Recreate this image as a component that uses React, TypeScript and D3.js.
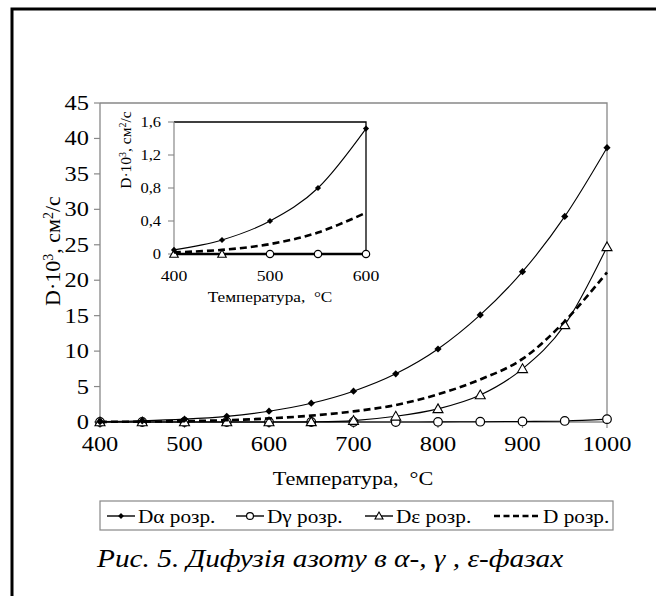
import React from "react";
import * as d3 from "d3";

const temps = [400, 450, 500, 550, 600, 650, 700, 750, 800, 850, 900, 950, 1000];
const dAlpha = [0.05, 0.17, 0.4, 0.8, 1.52, 2.65, 4.35, 6.8, 10.3, 15.1, 21.2, 29.0, 38.7];
const dGamma = [0, 0, 0, 0, 0, 0, 0, 0, 0.02, 0.04, 0.08, 0.15, 0.4];
const dEps = [0, 0, 0, 0, 0, 0.02, 0.2, 0.8, 1.85, 3.8, 7.5, 13.7, 24.7];
const dSum = [0.02, 0.05, 0.12, 0.26, 0.5, 0.9, 1.5, 2.4, 3.9, 6.0, 8.9, 14.2, 21.1];

// inset (enlarged 400–600 °C): temperatures plotted for each series
const insetAlphaTemps = [400, 450, 500, 550, 600];
const insetGammaTemps = [500, 550, 600];
const insetEpsTemps = [400, 450];
const insetSumTemps = [400, 450, 500, 550, 600];
const insetZeroLine = [400, 600];

const mainYTicks = [0, 5, 10, 15, 20, 25, 30, 35, 40, 45];
const mainXTicks = [400, 500, 600, 700, 800, 900, 1000];
const insetYTicks = [0, 0.4, 0.8, 1.2, 1.6];
const insetYLabels = ["0", "0,4", "0,8", "1,2", "1,6"];
const insetXTicks = [400, 500, 600];

const seriesNames = ["Dα розр.", "Dγ розр.", "Dε розр.", "D розр."];
const caption = "Рис. 5. Дифузія азоту в α-, γ , ε-фазах";
const xTitle = "Температура,\u00a0\u00a0°C";

type Pt = [number, number];

function Marker({ kind, x, y, s = 1 }: { kind: string; x: number; y: number; s?: number }) {
  if (kind === "diamond") {
    const r = 3.6 * s;
    return <path d={`M${x},${y - r}L${x + r},${y}L${x},${y + r}L${x - r},${y}Z`} fill="#000" />;
  }
  if (kind === "circle") {
    return <circle cx={x} cy={y} r={4.3 * s} fill="#fff" stroke="#000" strokeWidth={1.2} />;
  }
  if (kind === "triangle") {
    const r = 5 * s;
    return (
      <path
        d={`M${x},${y - r}L${x + r},${y + r * 0.75}L${x - r},${y + r * 0.75}Z`}
        fill="#fff"
        stroke="#000"
        strokeWidth={1.1}
      />
    );
  }
  return null;
}

function T({
  x,
  y,
  sx = 1.15,
  size,
  anchor = "start",
  italic,
  children,
  dy,
}: {
  x: number;
  y: number;
  sx?: number;
  size: number;
  anchor?: string;
  italic?: boolean;
  children: React.ReactNode;
  dy?: string;
}) {
  return (
    <text
      transform={`translate(${x},${y}) scale(${sx},1)`}
      textAnchor={anchor}
      fontSize={size}
      fontStyle={italic ? "italic" : undefined}
      dy={dy}
    >
      {children}
    </text>
  );
}

const line = d3.line<Pt>().curve(d3.curveCardinal.tension(0));

function Series({
  x,
  y,
  ts,
  vals,
  marker,
  w,
  dash,
  s,
}: {
  x: d3.ScaleLinear<number, number>;
  y: d3.ScaleLinear<number, number>;
  ts: number[];
  vals: number[];
  marker: string;
  w: number;
  dash?: string;
  s: number;
}) {
  const pts = ts.map((t) => [x(t), y(vals[temps.indexOf(t)])] as Pt);
  return (
    <g>
      <path d={line(pts) || ""} fill="none" stroke="#000" strokeWidth={w} strokeDasharray={dash} />
      {pts.map((p, j) => (
        <Marker key={j} kind={marker} x={p[0]} y={p[1]} s={s} />
      ))}
    </g>
  );
}

export default function App() {
  const W = 656;
  const H = 596;
  const x = d3.scaleLinear().domain([400, 1000]).range([100, 607]);
  const y = d3.scaleLinear().domain([0, 45]).range([422, 103]);
  const ix = d3.scaleLinear().domain([400, 600]).range([174, 366]);
  const iy = d3.scaleLinear().domain([0, 1.6]).range([254, 122]);

  const legendX = [107, 236, 365, 494];
  const legendLen = [28, 28, 28, 46];
  const legendKinds = ["diamond", "circle", "triangle", "dash"];

  return (
    <svg width={W} height={H} style={{ position: "absolute", left: 0, top: 0, background: "#fff" }}>
      <style>{`text { font-family: "Liberation Serif", "Times New Roman", serif; fill: #000; }`}</style>
      <rect x={0} y={0} width={W} height={H} fill="#fff" />
      <rect x={12} y={9} width={800} height={800} fill="none" stroke="#000" strokeWidth={3} />

      {/* main plot frame and axes */}
      <path d={`M${x(400)},${y(45)}H${x(1000)}V${y(0)}`} fill="none" stroke="#888" strokeWidth={1.3} />
      <line x1={x(400)} x2={x(400)} y1={y(45)} y2={y(0)} stroke="#888" strokeWidth={1.3} />
      <line x1={x(400)} x2={x(1000)} y1={y(0)} y2={y(0)} stroke="#888" strokeWidth={1.3} />
      {mainYTicks.map((t) => (
        <g key={t}>
          <line x1={x(400) - 6} x2={x(400)} y1={y(t)} y2={y(t)} stroke="#888" strokeWidth={1.2} />
          <T x={89} y={y(t)} dy="0.35em" anchor="end" size={20} sx={1.22}>
            {t}
          </T>
        </g>
      ))}
      {mainXTicks.map((t) => (
        <g key={t}>
          <line x1={x(t)} x2={x(t)} y1={y(0)} y2={y(0) + 6} stroke="#888" strokeWidth={1.2} />
          <T x={x(t)} y={451} anchor="middle" size={20} sx={1.22}>
            {t}
          </T>
        </g>
      ))}
      <T x={353} y={485} anchor="middle" size={19} sx={1.17}>
        {xTitle}
      </T>
      <text transform={`translate(60,251) rotate(-90)`} textAnchor="middle" fontSize={22}>
        D·10<tspan dy={-7} fontSize={14}>3</tspan>
        <tspan dy={7}>, см</tspan>
        <tspan dy={-7} fontSize={14}>2</tspan>
        <tspan dy={7}>/с</tspan>
      </text>

      <Series x={x} y={y} ts={temps} vals={dGamma} marker="circle" w={1.1} s={1} />
      <Series x={x} y={y} ts={temps} vals={dEps} marker="triangle" w={1.1} s={1} />
      <Series x={x} y={y} ts={temps} vals={dSum} marker="none" w={2.6} dash="7,4" s={1} />
      <Series x={x} y={y} ts={temps} vals={dAlpha} marker="diamond" w={1.1} s={1} />

      {/* inset */}
      <rect x={112} y={110} width={262} height={196} fill="#fff" />
      <path d={`M${ix(400)},${iy(1.6)}H${ix(600)}V${iy(0)}`} fill="none" stroke="#000" strokeWidth={1.3} />
      <line x1={ix(400)} x2={ix(400)} y1={iy(1.6)} y2={iy(0)} stroke="#888" strokeWidth={1.2} />
      {insetYTicks.map((t, i) => (
        <g key={t}>
          <line x1={ix(400) - 6} x2={ix(400)} y1={iy(t)} y2={iy(t)} stroke="#888" strokeWidth={1.1} />
          <T x={161} y={iy(t)} dy="0.35em" anchor="end" size={15} sx={1.1}>
            {insetYLabels[i]}
          </T>
        </g>
      ))}
      {insetXTicks.map((t) => (
        <T key={t} x={ix(t)} y={281} anchor="middle" size={15} sx={1.18}>
          {t}
        </T>
      ))}
      <T x={270} y={302} anchor="middle" size={15} sx={1.15}>
        {xTitle}
      </T>
      <text transform={`translate(131,150) rotate(-90)`} textAnchor="middle" fontSize={15.5}>
        D·10<tspan dy={-5} fontSize={10}>3</tspan>
        <tspan dy={5}>, см</tspan>
        <tspan dy={-5} fontSize={10}>2</tspan>
        <tspan dy={5}>/с</tspan>
      </text>
      <Series x={ix} y={iy} ts={insetZeroLine} vals={dGamma} marker="none" w={2.4} s={0.85} />
      <Series x={ix} y={iy} ts={insetGammaTemps} vals={dGamma} marker="circle" w={1.5} s={0.85} />
      <Series x={ix} y={iy} ts={insetEpsTemps} vals={dEps} marker="triangle" w={1.5} s={0.85} />
      <Series x={ix} y={iy} ts={insetSumTemps} vals={dSum} marker="none" w={2.6} dash="7,4" s={0.85} />
      <Series x={ix} y={iy} ts={insetAlphaTemps} vals={dAlpha} marker="diamond" w={1.1} s={0.85} />

      {/* legend */}
      <rect x={100} y={501} width={513} height={29} fill="#fff" stroke="#888" strokeWidth={1.2} />
      {seriesNames.map((n, i) => {
        const lx = legendX[i];
        const len = legendLen[i];
        const cy = 516;
        const kind = legendKinds[i];
        return (
          <g key={n}>
            <line
              x1={lx}
              x2={lx + len}
              y1={cy}
              y2={cy}
              stroke="#000"
              strokeWidth={kind === "dash" ? 2.6 : 1.4}
              strokeDasharray={kind === "dash" ? "6,3.5" : undefined}
            />
            {kind !== "dash" && <Marker kind={kind} x={lx + len / 2} y={cy} s={0.8} />}
            <T x={lx + len + 3} y={cy} dy="0.35em" size={19} sx={1.12}>
              {n}
            </T>
          </g>
        );
      })}

      <T x={97} y={567} size={25.5} sx={1.15} italic>
        {caption}
      </T>
    </svg>
  );
}
